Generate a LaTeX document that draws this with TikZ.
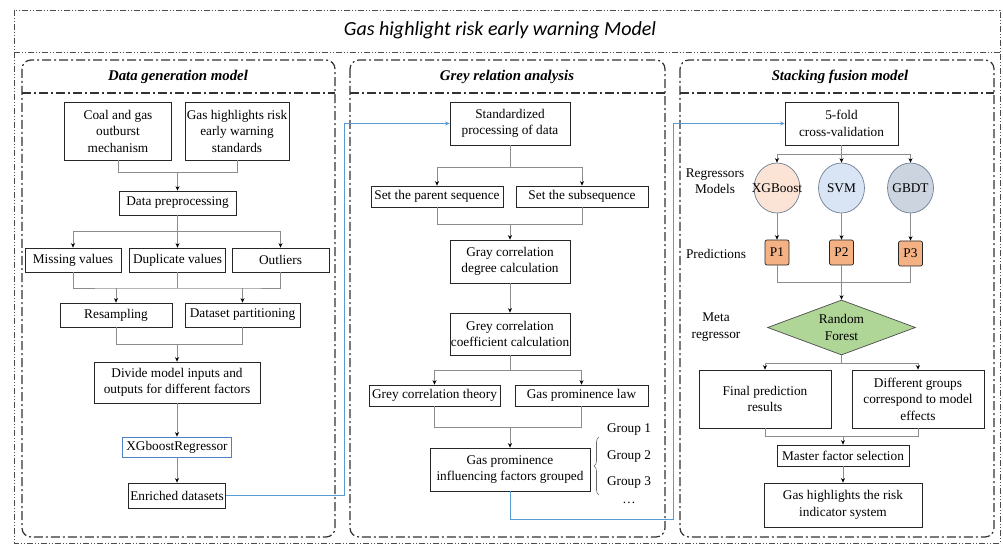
\documentclass[tikz,border=0pt]{standalone}
\usepackage{fontspec}
\setmainfont{LiberationSerif-Regular.ttf}[BoldFont=LiberationSerif-Bold.ttf,ItalicFont=LiberationSerif-Italic.ttf,BoldItalicFont=LiberationSerif-BoldItalic.ttf]
\newfontfamily\titlefont{Carlito}
\usetikzlibrary{arrows.meta,shapes.geometric,decorations.pathreplacing}
\definecolor{lnk}{HTML}{5B9BD5}
\definecolor{xgbox}{HTML}{4F7FC4}
\definecolor{peach}{HTML}{FBE3D5}
\definecolor{lblue}{HTML}{D9E4F4}
\definecolor{lgray}{HTML}{CBD4DF}
\definecolor{cborder}{HTML}{6F7F95}
\definecolor{porange}{HTML}{F4B183}
\definecolor{dgreen}{HTML}{AFD597}
\begin{document}
\begin{tikzpicture}[x=1pt,y=-1pt,
 box/.style={draw=black!85,line width=0.7pt,inner sep=0pt,align=center,font=\rmfamily\fontsize{13.3}{16.5}\selectfont},
 lbl/.style={inner sep=0pt,align=center,font=\rmfamily\fontsize{13.3}{16.5}\selectfont},
 model/.style={box,draw=cborder,ellipse,minimum width=46,minimum height=50},
 pbox/.style={box,fill=porange,rounded corners=2pt,minimum width=24,minimum height=25},
 conn/.style={draw=black!45,line width=0.8pt},
 arr/.style={conn,-{Stealth[length=4.5pt,width=4pt,color=black]}},
 bluearr/.style={draw=lnk,line width=0.8pt,-{Stealth[length=4.5pt,width=4pt]}},
 outerline/.style={draw=black!70,line width=0.8pt,dash pattern=on 6pt off 2pt on 1pt off 2pt on 1pt off 2pt},
 panel/.style={draw=black!80,line width=1.2pt,dash pattern=on 9pt off 3pt on 2pt off 3pt,rounded corners=9pt},
 panelsep/.style={draw=black!80,line width=1.2pt,dash pattern=on 9pt off 3pt on 2pt off 3pt},
 ptitle/.style={inner sep=0pt,font=\rmfamily\bfseries\itshape\fontsize{14.8}{18}\selectfont},
]
\useasboundingbox (0,0) rectangle (1003,545);
% outer frame
\draw[outerline] (14,10) rectangle (1000,543);
\draw[outerline] (14,52) -- (1000,52);
\node[inner sep=0pt,font=\titlefont\itshape\fontsize{20}{22}\selectfont] (title) at (500,30) {Gas highlight risk early warning Model};
% panels
\draw[panel] (22,60) rectangle (335,537);
\draw[panelsep] (22,93) -- (335,93);
\node[ptitle] (t1) at (178,77) {Data generation model};
\draw[panel] (350,60) rectangle (665,537);
\draw[panelsep] (350,93) -- (665,93);
\node[ptitle] (t2) at (507,77) {Grey relation analysis};
\draw[panel] (680,60) rectangle (994,537);
\draw[panelsep] (680,93) -- (994,93);
\node[ptitle] (t3) at (840,77) {Stacking fusion model};

% ---------- panel 1
\node[box,minimum width=107,minimum height=58] (coal) at (118,131) {Coal and gas\\outburst\\mechanism};
\node[box,minimum width=104,minimum height=58] (std1) at (237,131) {Gas highlights risk\\early warning\\standards};
\node[box,minimum width=117,minimum height=24] (dp) at (177.5,203) {Data preprocessing};
\node[box,minimum width=96,minimum height=24] (miss) at (73,260) {Missing values};
\node[box,minimum width=96,minimum height=24] (dup) at (177.5,260) {Duplicate values};
\node[box,minimum width=97,minimum height=24] (outl) at (280.5,260) {Outliers};
\node[box,minimum width=112,minimum height=24] (res) at (116,315) {Resampling};
\node[box,minimum width=115,minimum height=24] (part) at (242.5,315) {Dataset partitioning};
\node[box,minimum width=166,minimum height=41] (div) at (177,382.5) {Divide model inputs and\\outputs for different factors};
\node[box,draw=xgbox,minimum width=109,minimum height=20] (xgr) at (177,447) {XGboostRegressor};
\node[box,minimum width=97,minimum height=25] (enr) at (177,495.5) {Enriched datasets};

\coordinate (j1) at (177.5,172);
\draw[conn] (coal.south) |- (j1);
\draw[conn] (std1.south) |- (j1);
\draw[arr] (j1) -- (dp.north);
\coordinate (f1) at (177.5,231);
\draw[conn] (dp.south) -- (f1);
\draw[arr] (f1) -| (miss.north);
\draw[arr] (f1) -| (outl.north);
\draw[arr] (f1) -- (dup.north);
\coordinate (j2L) at (116,288);
\coordinate (j2R) at (242.5,288);
\draw[conn] (miss.south) |- (j2L) -- (j2R) -| (outl.south);
\draw[conn] (dup.south) -- (dup.south |- j2L);
\draw[arr] (j2L) -- (res.north);
\draw[arr] (j2R) -- (part.north);
\coordinate (j3) at (177,344);
\draw[conn] (res.south) |- (j3);
\draw[conn] (part.south) |- (j3);
\draw[arr] (j3) -- (div.north);
\draw[arr] (div.south) -- (xgr.north);
\draw[arr] (xgr.south) -- (enr.north);

% ---------- panel 2
\node[box,minimum width=120,minimum height=43] (stdp) at (510,123.5) {Standardized\\processing of data};
\node[box,minimum width=132,minimum height=21] (par) at (437,196.5) {Set the parent sequence};
\node[box,minimum width=132,minimum height=21] (sub) at (582,196.5) {Set the subsequence};
\node[box,minimum width=120,minimum height=43] (gdeg) at (510,261.5) {Gray correlation\\degree calculation};
\node[box,minimum width=120,minimum height=42] (gcoef) at (510,334) {Grey correlation\\coefficient calculation};
\node[box,minimum width=131,minimum height=21] (gth) at (434.5,395.5) {Grey correlation theory};
\node[box,minimum width=133,minimum height=21] (gpl) at (581.5,395.5) {Gas prominence law};
\node[box,minimum width=160,minimum height=43] (grp) at (510,469.5) {Gas prominence\\influencing factors grouped};

\coordinate (f2) at (510,167);
\draw[conn] (stdp.south) -- (f2);
\draw[arr] (f2) -| (par.north);
\draw[arr] (f2) -| (sub.north);
\coordinate (j4) at (510,224);
\draw[conn] (par.south) |- (j4);
\draw[conn] (sub.south) |- (j4);
\draw[arr] (j4) -- (gdeg.north);
\draw[arr] (gdeg.south) -- (gcoef.north);
\coordinate (f3) at (510,370);
\draw[conn] (gcoef.south) -- (f3);
\draw[arr] (f3) -| (gth.north);
\draw[arr] (f3) -| (gpl.north);
\coordinate (j5) at (510,427);
\draw[conn] (gth.south) |- (j5);
\draw[conn] (gpl.south) |- (j5);
\draw[arr] (j5) -- (grp.north);

\draw[draw=black!60,line width=0.6pt,decorate,decoration={brace,amplitude=5pt}] (599,495) -- (599,437);
\node[lbl] (g1) at (629,430) {Group 1};
\node[lbl] (g2) at (629,456.5) {Group 2};
\node[lbl] (g3) at (629,483) {Group 3};
\node[lbl] (g4) at (629,503) {\dots};

% ---------- panel 3
\node[box,minimum width=113,minimum height=43] (fold) at (841.5,123.5) {5-fold\\cross-validation};
\node[model,fill=peach] (c1) at (777,188) {\makebox[0pt]{XGBoost}};
\node[model,fill=lblue] (c2) at (841.5,188) {\makebox[0pt]{SVM}};
\node[model,fill=lgray] (c3) at (910.5,188) {\makebox[0pt]{GBDT}};
\node[lbl] (lreg) at (715,181) {Regressors\\Models};
\node[lbl] (lpred) at (716,254) {Predictions};
\node[lbl] (lmeta) at (716,327) {Meta\\regressor};
\node[pbox] (p1) at (777,252.5) {P1};
\node[pbox] (p2) at (841.5,252.5) {P2};
\node[pbox] (p3) at (910.5,253.5) {P3};
\node[box,draw=black!70,diamond,fill=dgreen,aspect=2.7,minimum width=148,minimum height=55] (rf) at (841.5,327.5) {Random\\Forest};
\node[box,minimum width=132,minimum height=58] (fin) at (765,399) {Final prediction\\results};
\node[box,minimum width=132,minimum height=58] (dif) at (918,399) {Different groups\\correspond to model\\effects};
\node[box,minimum width=132,minimum height=21] (mas) at (843,455.5) {Master factor selection};
\node[box,minimum width=158,minimum height=44] (ind) at (843,505) {Gas highlights the risk\\indicator system};

\coordinate (f4) at (841.5,154);
\draw[conn] (fold.south) -- (f4);
\draw[arr] (f4) -| (c1.north);
\draw[arr] (f4) -| (c3.north);
\draw[arr] (f4) -- (c2.north);
\draw[arr] (c1.south) -- (p1.north);
\draw[arr] (c2.south) -- (p2.north);
\draw[arr] (c3.south) -- (p3.north);
\coordinate (j6) at (841.5,282);
\draw[conn] (p1.south) |- (j6);
\draw[conn] (p3.south) |- (j6);
\draw[conn] (p2.south) -- (j6);
\draw[arr] (j6) -- (rf.north);
\coordinate (f5) at (841.5,363);
\draw[conn] (rf.south) -- (f5);
\draw[arr] (f5) -| (fin.north);
\draw[arr] (f5) -| (dif.north);
\coordinate (j7) at (843,436);
\draw[conn] (fin.south) |- (j7);
\draw[conn] (dif.south) |- (j7);
\draw[arr] (j7) -- (mas.north);
\draw[arr] (mas.south) -- (ind.north);

% ---------- blue links
\coordinate (b1) at (344,495.5);
\draw[bluearr] (enr.east) -- (b1) |- (stdp.west);
\coordinate (b2) at (673,519);
\draw[bluearr] (grp.south) |- (b2) |- (fold.west);
\end{tikzpicture}
\end{document}
